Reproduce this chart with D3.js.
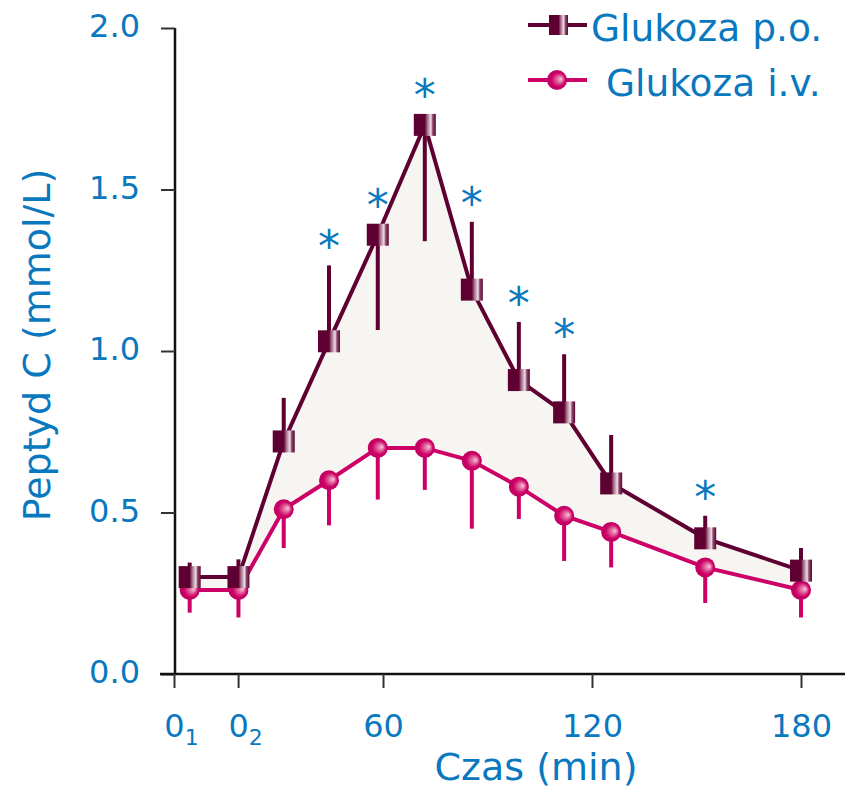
<!DOCTYPE html>
<html>
<head>
<meta charset="utf-8">
<script src="https://cdn.jsdelivr.net/npm/d3@7"></script>
<style>
  body { margin: 0; background: #fff; }
  text { font-family: "DejaVu Sans", Verdana, sans-serif; fill: #0a78be; }
</style>
</head>
<body>
<div id="chart"></div>
<script>
// time positions (min); 0_1 and 0_2 are the two baseline samples
const times = [4.5, 18.5, 31.5, 44.5, 58.5, 72, 85.5, 99, 112, 125.5, 152.5, 180]
const poValues = [0.30, 0.30, 0.72, 1.03, 1.36, 1.70, 1.19, 0.91, 0.81, 0.59, 0.42, 0.32]
const poErrEnd = [0.345, 0.355, 0.855, 1.265, 1.065, 1.34, 1.40, 1.09, 0.99, 0.74, 0.49, 0.39]
const ivValues = [0.26, 0.26, 0.51, 0.60, 0.70, 0.70, 0.66, 0.58, 0.49, 0.44, 0.33, 0.26]
const ivErrEnd = [0.19, 0.175, 0.39, 0.46, 0.54, 0.57, 0.45, 0.48, 0.35, 0.33, 0.22, 0.175]
const starred = [false, false, false, true, true, true, true, true, true, false, true, false]
const xTickVals = [0, 18.4, 60, 120, 180]
const xTickLabels = [['0', '1'], ['0', '2'], ['60'], ['120'], ['180']]
const yTicks = [0, 0.5, 1.0, 1.5, 2.0]

const width = 850, height = 790

const maroon = '#5f0032'
const pink = '#cc0066'
const blue = '#0a78be'

const svg = d3.select('#chart')
.append('svg')
.attr('width', width)
.attr('height', height)

const defs = svg.append('defs')

const sqGrad = defs.append('linearGradient').attr('id', 'sqGrad')
;[[0, maroon], [0.5, maroon], [0.62, '#a8708c'], [0.78, '#efe0e8'], [0.86, '#8a4a6a'], [1, maroon]]
.forEach(s => sqGrad.append('stop').attr('offset', s[0]).attr('stop-color', s[1]))

const ciGrad = defs.append('radialGradient').attr('id', 'ciGrad')
.attr('cx', 0.5).attr('cy', 0.5).attr('r', 0.5).attr('fx', 0.72).attr('fy', 0.45)
;[[0, '#f6c6dc'], [0.35, '#e0609a'], [0.7, pink], [1, '#c00060']]
.forEach(s => ciGrad.append('stop').attr('offset', s[0]).attr('stop-color', s[1]))

const x = d3.scaleLinear().domain([0, 180]).range([174, 801])
const y = d3.scaleLinear().domain([0, 2]).range([674, 28])

const data = times.map((t, i) => ({
	t, po: poValues[i], poErr: poErrEnd[i], iv: ivValues[i], ivErr: ivErrEnd[i], star: starred[i]
}))

// shaded band between the curves
const area = d3.area()
.x(d => x(d.t))
.y0(d => y(d.iv))
.y1(d => y(d.po))

svg.append('path')
.datum(data)
.attr('d', area)
.attr('fill', '#f6f5f1')
.attr('stroke', '#9a9a9a')
.attr('stroke-width', 1)

// axes
const yAxis = svg.append('g')
.attr('transform', `translate(175,0)`)
.call(d3.axisLeft(y).tickValues(yTicks).tickSize(14).tickPadding(21).tickFormat(d3.format('.1f')))

yAxis.select('.domain').attr('d', `M0,${y(2)}V${y(0)}`).attr('stroke', '#111').attr('stroke-width', 2.5)
yAxis.selectAll('.tick line').attr('stroke', '#333').attr('stroke-width', 2)
yAxis.selectAll('.tick text').attr('font-size', 32).attr('fill', blue).attr('dy', '0.28em')

const xAxis = svg.append('g')
.attr('transform', `translate(0,674)`)
.call(d3.axisBottom(x).tickValues(xTickVals).tickSize(14).tickFormat(''))

xAxis.select('.domain').attr('d', `M160,0H845`).attr('stroke', '#111').attr('stroke-width', 2.5)
xAxis.selectAll('.tick line').attr('stroke', '#333').attr('stroke-width', 2)

const xLab = xAxis.selectAll('.tick')
.append('text')
.attr('y', 63)
.attr('text-anchor', 'middle')
.attr('font-size', 32)
.attr('fill', blue)

xLab.each(function(d, i) {
	const lab = xTickLabels[i]
	const t = d3.select(this)
	t.append('tspan').text(lab[0])
	if (lab[1]) {
		t.attr('dx', 7)
		t.append('tspan').attr('font-size', 22).attr('dy', 8).text(lab[1])
	}
})

svg.append('text')
.attr('transform', 'translate(50,345) rotate(-90)')
.attr('text-anchor', 'middle')
.attr('font-size', 38)
.text('Peptyd C (mmol/L)')

svg.append('text')
.attr('x', 536)
.attr('y', 780)
.attr('text-anchor', 'middle')
.attr('font-size', 38)
.text('Czas (min)')

// i.v. series
svg.append('g')
.selectAll('line')
.data(data)
.enter()
.append('line')
.attr('x1', d => x(d.t)).attr('x2', d => x(d.t))
.attr('y1', d => y(d.iv)).attr('y2', d => y(d.ivErr))
.attr('stroke', pink)
.attr('stroke-width', 4)

svg.append('path')
.datum(data)
.attr('d', d3.line().x(d => x(d.t)).y(d => y(d.iv)))
.attr('fill', 'none')
.attr('stroke', pink)
.attr('stroke-width', 4)

svg.append('g')
.selectAll('circle')
.data(data)
.enter()
.append('circle')
.attr('cx', d => x(d.t))
.attr('cy', d => y(d.iv))
.attr('r', 10)
.attr('fill', 'url(#ciGrad)')

// p.o. series
svg.append('g')
.selectAll('line')
.data(data)
.enter()
.append('line')
.attr('x1', d => x(d.t)).attr('x2', d => x(d.t))
.attr('y1', d => y(d.po)).attr('y2', d => y(d.poErr))
.attr('stroke', maroon)
.attr('stroke-width', 4)

svg.append('path')
.datum(data)
.attr('d', d3.line().x(d => x(d.t)).y(d => y(d.po)))
.attr('fill', 'none')
.attr('stroke', maroon)
.attr('stroke-width', 4)

svg.append('g')
.selectAll('rect')
.data(data)
.enter()
.append('rect')
.attr('x', d => x(d.t) - 11)
.attr('y', d => y(d.po) - 11)
.attr('width', 22)
.attr('height', 22)
.attr('fill', 'url(#sqGrad)')

// significance marks, placed just above the top of bar or marker
svg.append('g')
.selectAll('text')
.data(data.filter(d => d.star))
.enter()
.append('text')
.attr('x', d => x(d.t))
.attr('y', d => Math.min(y(d.poErr), y(d.po) - 11) - 3)
.attr('text-anchor', 'middle')
.attr('font-size', 44)
.attr('fill', blue)
.text('*')

// legend
const legend = svg.append('g')
const legRows = [
	{ label: 'Glukoza p.o.', color: maroon, y: 25, tx: 591, shape: 'rect' },
	{ label: 'Glukoza i.v.', color: pink, y: 80, tx: 606, shape: 'circle' }
]

legRows.forEach(r => {
	legend.append('line')
	.attr('x1', 528).attr('x2', 587)
	.attr('y1', r.y).attr('y2', r.y)
	.attr('stroke', r.color)
	.attr('stroke-width', 4)

	if (r.shape === 'rect') {
		legend.append('rect')
		.attr('x', 549).attr('y', r.y - 10)
		.attr('width', 19).attr('height', 20)
		.attr('fill', 'url(#sqGrad)')
	} else {
		legend.append('circle')
		.attr('cx', 557).attr('cy', r.y)
		.attr('r', 10)
		.attr('fill', 'url(#ciGrad)')
	}

	legend.append('text')
	.attr('x', r.tx)
	.attr('y', r.y + 16)
	.attr('font-size', 37.5)
	.attr('fill', blue)
	.text(r.label)
})
</script>
</body>
</html>
